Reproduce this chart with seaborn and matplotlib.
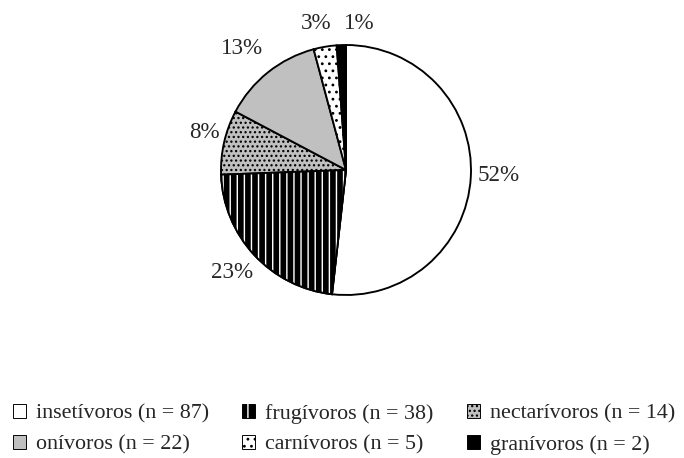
import numpy as np
import matplotlib
matplotlib.use("Agg")
import matplotlib.pyplot as plt
from matplotlib.patches import Patch, Wedge
import seaborn as sns

# Feeding guilds and number of species in each
groups = ["insetívoros", "frugívoros", "nectarívoros", "onívoros", "carnívoros", "granívoros"]
counts = [87, 38, 14, 22, 5, 2]

# Slice styling (fill colour and hatch pattern per guild)
face_colors = ["white", "black", "#c0c0c0", "#c0c0c0", "white", "black"]
hatches = [None, None, "...", None, "..", None]

# Radial distance and angular nudge (degrees) of each percentage label
label_radius = [1.22, 1.23, 1.17, 1.28, 1.20, 1.18]
label_nudge = [1.3, -0.8, -2.1, 1.8, 1.9, -7.5]

DPI = 85
sns.set_theme(style="white")
plt.rcParams["font.family"] = ["Liberation Serif", "DejaVu Serif"]
plt.rcParams["hatch.linewidth"] = 1.2

fs_pct = 23 * 72 / DPI
fs_leg = 22 * 72 / DPI

fig = plt.figure(figsize=(684 / DPI, 458 / DPI), dpi=DPI)
ax = fig.add_axes([171 / 684, 113 / 458, 350 / 684, 350 / 458])

wedges, _ = ax.pie(
    counts,
    colors=face_colors,
    startangle=90,
    counterclock=False,
    wedgeprops=dict(edgecolor="black", linewidth=1.6),
)
for w, h in zip(wedges, hatches):
    if h:
        w.set_hatch(h)

# White vertical stripes over the black frugivore slice, then its outline again
fw = wedges[1]
ax.add_patch(Wedge(fw.center, fw.r, fw.theta1, fw.theta2,
                   facecolor="none", edgecolor="white", linewidth=0, hatch="||"))
ax.add_patch(Wedge(fw.center, fw.r, fw.theta1, fw.theta2,
                   facecolor="none", edgecolor="black", linewidth=1.6))

# Percentage labels around the pie
total = sum(counts)
for w, n, rd, nd in zip(wedges, counts, label_radius, label_nudge):
    ang = np.deg2rad((w.theta1 + w.theta2) / 2 + nd)
    ax.text(rd * np.cos(ang), rd * np.sin(ang), f"{100 * n / total:.0f}%",
            ha="center", va="center", fontsize=fs_pct)

ax.set_xlim(-1.4, 1.4)
ax.set_ylim(-1.4, 1.4)
ax.set_aspect("equal")
ax.axis("off")


def legend_handle(i):
    if i == 1:
        return (Patch(facecolor="black", edgecolor="black", linewidth=0.8),
                Patch(facecolor="none", edgecolor="white", linewidth=0, hatch="|"))
    return Patch(facecolor=face_colors[i], edgecolor="black", linewidth=0.8, hatch=hatches[i])


order = [0, 3, 1, 4, 2, 5]
handles = [legend_handle(i) for i in order]
labels = [f"{groups[i]} (n = {counts[i]})" for i in order]

fig.legend(
    handles, labels, ncol=3, loc="upper left",
    bbox_to_anchor=(13 / 684, 1 - 404 / 458),
    frameon=False, fontsize=fs_leg,
    handlelength=0.6, handleheight=0.6, handletextpad=0.45,
    columnspacing=1.5, labelspacing=0.5, borderpad=0, borderaxespad=0,
)

fig.savefig("out.png", dpi=DPI, facecolor="white")
